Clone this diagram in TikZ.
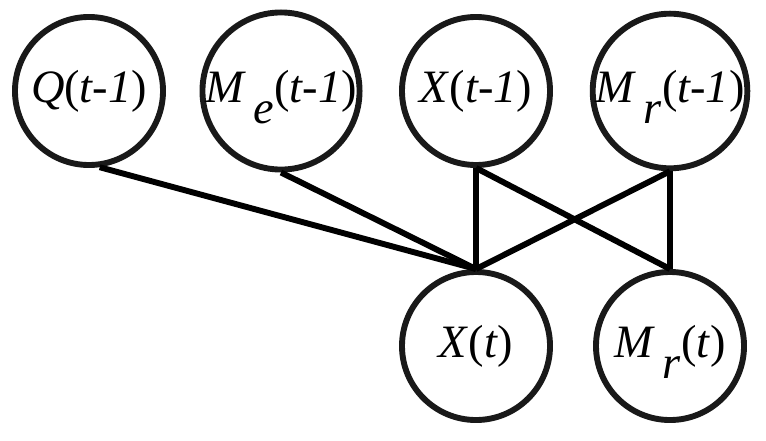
\documentclass[tikz,border=0pt]{standalone}
\usepackage{fontspec}
\setmainfont{Liberation Serif}[ItalicFont={Liberation Serif Italic}]
\usetikzlibrary{positioning}

% lowered subscript as in the original figure
\newcommand{\lowsub}[1]{\,\raisebox{-0.45em}[0pt][0pt]{\textit{#1}}}

\begin{document}
\begin{tikzpicture}[x=0.025cm,y=-0.025cm,
    var/.style={circle,draw=black!90,line width=4.2pt,minimum size=3.7cm,inner sep=0pt,
                font=\fontsize{33}{38}\selectfont},
    link/.style={line width=4.2pt,black}]
  \useasboundingbox (0,0) rectangle (766,440);
  % previous time step
  \node[var] (Q)   at (89,91)  {\textit{Q}(\textit{t-1})};
  \node[var] (Me)  at (281,91) {\textit{M}\lowsub{e}(\textit{t-1})};
  \node[var] (Xp)  at (476,91) {\textit{X}(\textit{t-1})};
  \node[var] (Mrp) at (670,91) {\textit{M}\lowsub{r}(\textit{t-1})};
  % current time step
  \node[var] (X)  at (476,346) {\textit{X}(\textit{t})};
  \node[var] (Mr) at (670,346) {\textit{M}\lowsub{r}(\textit{t})};
  % dependencies
  \draw[link] (Q.-82) -- (X.north);
  \draw[link] (Me.south) -- (X.north);
  \foreach \a in {Xp,Mrp}{
    \draw[link] (\a.south) -- (X.north);
    \draw[link] (\a.south) -- (Mr.north);
  }
\end{tikzpicture}
\end{document}
